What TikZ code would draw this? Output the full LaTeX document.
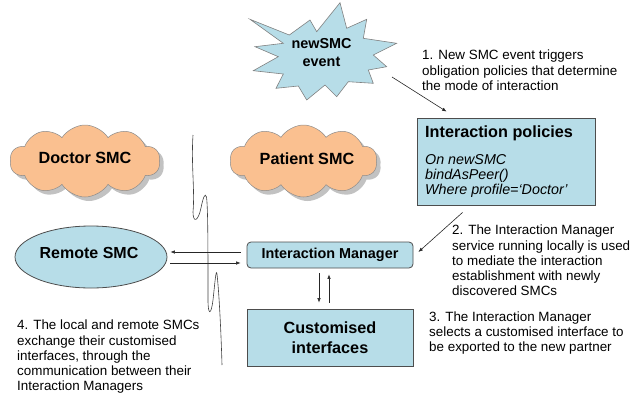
\documentclass[tikz,border=0pt]{standalone}
\usepackage{fontspec}
\setmainfont{Liberation Sans}
\usetikzlibrary{shapes.symbols,shapes.geometric,shadows,arrows.meta,calc}
\definecolor{lblue}{HTML}{B7DDE8}
\definecolor{lorange}{HTML}{FAC090}
\definecolor{edgec}{HTML}{4D4D4D}
\begin{document}
\begin{tikzpicture}[x=1pt,y=-1pt,
  box/.style={draw=edgec, line width=0.8pt, fill=lblue, inner sep=0pt},
  txt/.style={align=left, inner sep=0pt, anchor=north west, font=\fontsize{13.4}{15.2}\selectfont},
  arr/.style={draw=black!85, line width=0.6pt, -{Latex[length=4.5pt,width=3.5pt]}},
  cloudy/.style={cloud, cloud puffs=10, cloud puff arc=115, cloud ignores aspect, draw=black!45, line width=0.5pt, fill=lorange, inner sep=0pt,
    drop shadow={shadow xshift=4pt, shadow yshift=-4pt, fill=black!40, opacity=0.6}},
  boldtxt/.style={inner sep=0pt, font=\bfseries\fontsize{16.2}{19}\selectfont}
]
\useasboundingbox (0,0) rectangle (632,394);

% starburst
\draw[fill=lblue, draw=black!50, line width=0.6pt]
  (250,19.3) -- (289.3,35) -- (310,20) -- (316.7,31.7) -- (340,2.7) -- (346.7,28.3)
  -- (366.7,19.3) -- (363.3,38.3) -- (396.7,43.3) -- (373.3,55) -- (386.7,66.7)
  -- (368.3,70) -- (373.3,83.3) -- (348.3,81.7) -- (336.7,96.7) -- (325,85)
  -- (306.7,100) -- (298.3,86) -- (276,88.3) -- (283.3,74) -- (253.3,70.7)
  -- (278.3,56.7) -- (255,46.7) -- (283.3,43.3) -- cycle;
\node[inner sep=0pt, align=center, font=\bfseries\fontsize{14.4}{18}\selectfont] (evtxt) at (321.5,53) {newSMC\\event};
\coordinate (ev) at (392,77);

% clouds
\node[cloudy, minimum width=150pt, minimum height=72pt] (doc) at (85,161) {};
\node[boldtxt] (doctxt) at (85,158) {Doctor SMC};
\node[cloudy, minimum width=147pt, minimum height=72pt] (pat) at (303.5,161) {};
\node[boldtxt] (pattxt) at (307,159) {Patient SMC};

% broken link line
\draw[draw=black!75, line width=0.6pt]
  (193,135) .. controls (191,165) and (195,190) .. (193,212)
  .. controls (193,223) and (198,222) .. (201,208)
  .. controls (203,198) and (205,192) .. (206.5,197)
  .. controls (208,208) and (208,250) .. (208,300)
  .. controls (208,315) and (211,316) .. (213,300)
  .. controls (215,282) and (216,268) .. (217,274)
  .. controls (219,292) and (221,330) .. (222,365);

% policies box
\node[box, minimum width=178pt, minimum height=87pt] (pol) at (506,161.5) {};
\node[anchor=base west, inner sep=0pt, font=\bfseries\fontsize{16.2}{19}\selectfont] (poltitle) at (425,137.8) {Interaction policies};
\node[txt, font=\itshape\fontsize{14.3}{15}\selectfont] (polbody) at (425,154.6) {On newSMC\\bindAsPeer()\\Where profile=‘Doctor’};

% remote SMC
\node[ellipse, draw=edgec, line width=0.8pt, fill=lblue, minimum width=152pt, minimum height=62pt, inner sep=0pt] (remote) at (91,257) {};
\node[inner sep=0pt, font=\bfseries\fontsize{16}{19}\selectfont] (remtxt) at (89,253) {Remote SMC};

% interaction manager
\node[box, rounded corners=4pt, minimum width=166pt, minimum height=26pt, font=\bfseries\fontsize{14.4}{17}\selectfont] (IM) at (330,255) {Interaction Manager};

% customised interfaces
\node[box, minimum width=166pt, minimum height=57pt, align=center, font=\bfseries\fontsize{16.2}{20}\selectfont] (cust) at (330,337.5) {Customised\\interfaces};

% connectors
\draw[arr] (ev) -- ($(pol.north west)+(30,-6)$);
\draw[arr] ($(pol.south west)+(46,7)$) -- ($(IM.east)+(5,-3)$);
\draw[arr] ($(IM.west)+(-6,-3)$) -- ($(remote.east)+(3,-5)$);
\draw[arr] ($(remote.east)+(3,6)$) -- ($(IM.west)+(-6,8)$);
\draw[arr] ($(IM.south)+(-11,5)$) -- ($(cust.north)+(-11,-6)$);
\draw[arr] ($(cust.north)+(-1,-6)$) -- ($(IM.south)+(-1,6)$);

% annotations
\node[txt] (t1) at (422,50) {1. New SMC event triggers\\obligation policies that determine\\the mode of interaction};
\node[txt] (t2) at (452,225) {2. The Interaction Manager\\service running locally is used\\to mediate the interaction\\establishment with newly\\discovered SMCs};
\node[txt] (t3) at (429,311.5) {3. The Interaction Manager\\selects a customised interface to\\be exported to the new partner};
\node[txt] (t4) at (17,320) {4. The local and remote SMCs\\exchange their customised\\interfaces, through the\\communication between their\\Interaction Managers};
\end{tikzpicture}
\end{document}
